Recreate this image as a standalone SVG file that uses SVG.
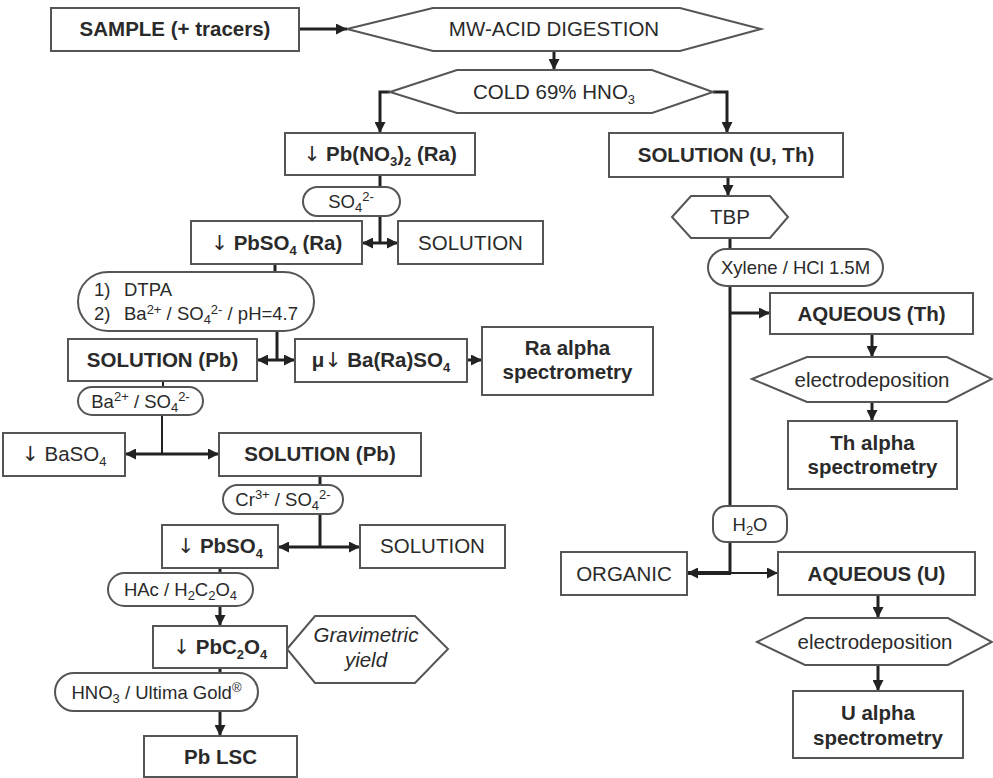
<svg xmlns="http://www.w3.org/2000/svg" width="993" height="778" viewBox="0 0 993 778">
<style>
.box{fill:#fff;stroke:#555;stroke-width:2}
.ln{stroke:#222;stroke-width:3;fill:none}
text{font-family:"Liberation Sans",Arial,sans-serif;fill:#2a2a2a;text-anchor:middle}
.b{font-weight:bold;font-size:20.5px}
.r{font-size:20.5px}
.p{font-size:18.5px}
.i{font-style:italic;font-size:20.5px}
.n{font-weight:normal;font-family:"DejaVu Sans","Liberation Sans",sans-serif;fill:#2a2a2a}
.s{font-size:13px}
</style>
<defs>
<marker id="ah" markerUnits="userSpaceOnUse" markerWidth="11" markerHeight="11" refX="11" refY="5.5" orient="auto-start-reverse">
<path d="M0,0 L11,5.5 L0,11 z" fill="#222"/>
</marker>
</defs>
<rect width="993" height="778" fill="#fff"/>

<g id="connectors">
<line class="ln" x1="299" y1="29" x2="347" y2="29" marker-end="url(#ah)"/>
<line class="ln" x1="554" y1="51" x2="554" y2="70" marker-end="url(#ah)"/>
<polyline class="ln" points="390,92 380,92 380,133" marker-end="url(#ah)"/>
<polyline class="ln" points="713,92 727,92 727,133" marker-end="url(#ah)"/>
<line class="ln" x1="380" y1="175" x2="380" y2="187"/>
<line class="ln" x1="380" y1="216" x2="380" y2="243"/>
<line class="ln" x1="362" y1="243" x2="398" y2="243" marker-start="url(#ah)" marker-end="url(#ah)"/>
<line class="ln" x1="275" y1="264" x2="275" y2="272"/>
<line class="ln" x1="277" y1="331" x2="277" y2="360"/>
<line class="ln" x1="257" y1="360" x2="295" y2="360" marker-start="url(#ah)" marker-end="url(#ah)"/>
<line class="ln" x1="467" y1="360" x2="482" y2="360" marker-end="url(#ah)"/>
<line class="ln" x1="163" y1="381" x2="163" y2="387" style="stroke-width:2"/>
<line class="ln" x1="162" y1="415" x2="162" y2="454" style="stroke-width:2"/>
<line class="ln" x1="125" y1="454" x2="219" y2="454" marker-start="url(#ah)" marker-end="url(#ah)"/>
<line class="ln" x1="320" y1="476" x2="320" y2="485"/>
<line class="ln" x1="320" y1="514" x2="320" y2="547"/>
<line class="ln" x1="278" y1="547" x2="360" y2="547" marker-start="url(#ah)" marker-end="url(#ah)"/>
<line class="ln" x1="220" y1="568" x2="220" y2="573"/>
<line class="ln" x1="220" y1="606" x2="220" y2="626" marker-end="url(#ah)"/>
<line class="ln" x1="220" y1="668" x2="220" y2="673"/>
<line class="ln" x1="220" y1="711" x2="220" y2="736" marker-end="url(#ah)"/>
<line class="ln" x1="728" y1="177" x2="728" y2="196" marker-end="url(#ah)"/>
<line class="ln" x1="730" y1="238" x2="730" y2="249"/>
<line class="ln" x1="730" y1="286" x2="730" y2="506"/>
<line class="ln" x1="730" y1="313" x2="770" y2="313" marker-end="url(#ah)"/>
<line class="ln" x1="872" y1="334" x2="872" y2="357" marker-end="url(#ah)"/>
<line class="ln" x1="872" y1="402" x2="872" y2="421" marker-end="url(#ah)"/>
<line class="ln" x1="730" y1="542" x2="730" y2="573"/>
<line class="ln" x1="731" y1="573" x2="687" y2="573" marker-end="url(#ah)" style="stroke-width:4"/>
<line class="ln" x1="730" y1="573" x2="778" y2="573" marker-end="url(#ah)" style="stroke-width:2"/>
<line class="ln" x1="878" y1="595" x2="878" y2="618" marker-end="url(#ah)"/>
<line class="ln" x1="878" y1="665" x2="878" y2="691" marker-end="url(#ah)"/>
</g>

<g id="sample"><rect class="box" x="51" y="8" width="248" height="43"/><text class="b" x="175" y="36">SAMPLE (+ tracers)</text></g>
<g id="mw"><polygon class="box" points="347,29 433,8 680,8 761,29 680,51 433,51"/><text class="r" x="554" y="36">MW-ACID DIGESTION</text></g>
<g id="cold"><polygon class="box" points="390,92 457,70 652,70 713,92 652,113 457,113"/><text class="r" x="554" y="99">COLD 69% HNO<tspan class="s" dy="5">3</tspan></text></g>

<g id="pbno3"><rect class="box" x="285" y="133" width="190" height="42"/><text class="b" x="380" y="161"><tspan class="n">↓</tspan> Pb(NO<tspan class="s" dy="5">3</tspan><tspan dy="-5">)</tspan><tspan class="s" dy="5">2</tspan><tspan dy="-5"> (Ra)</tspan></text></g>
<g id="so4a"><rect class="box" x="303" y="187" width="97" height="29" rx="14.5"/><text class="p" x="351" y="208">SO<tspan class="s" dy="4">4</tspan><tspan class="s" dy="-11">2-</tspan></text></g>
<g id="pbso4ra"><rect class="box" x="191" y="221" width="171" height="43"/><text class="b" x="276.5" y="250"><tspan class="n">↓</tspan> PbSO<tspan class="s" dy="5">4</tspan><tspan dy="-5"> (Ra)</tspan></text></g>
<g id="sol1"><rect class="box" x="398" y="221" width="145" height="43"/><text class="r" x="470.5" y="250">SOLUTION</text></g>
<g id="dtpa"><rect class="box" x="78" y="272" width="236" height="59" rx="30"/>
<text class="p" x="94" y="296" style="text-anchor:start">1)</text><text class="p" x="124" y="296" style="text-anchor:start">DTPA</text>
<text class="p" x="94" y="320" style="text-anchor:start">2)</text><text class="p" x="124" y="320" style="text-anchor:start">Ba<tspan class="s" dy="-6">2+</tspan><tspan dy="6"> / SO</tspan><tspan class="s" dy="4">4</tspan><tspan class="s" dy="-10">2-</tspan><tspan dy="6"> / pH=4.7</tspan></text></g>
<g id="solpb1"><rect class="box" x="68" y="339" width="189" height="42"/><text class="b" x="162.5" y="367">SOLUTION (Pb)</text></g>
<g id="baraso4"><rect class="box" x="295" y="339" width="172" height="43"/><text class="b" x="381" y="367">μ<tspan class="n">↓</tspan> Ba(Ra)SO<tspan class="s" dy="5">4</tspan></text></g>
<g id="raalpha"><rect class="box" x="482" y="327" width="171" height="68"/><text class="b" x="567.5" y="355">Ra alpha</text><text class="b" x="567.5" y="379">spectrometry</text></g>
<g id="baso4pill"><rect class="box" x="78" y="387" width="125" height="28" rx="14"/><text class="p" x="140.5" y="408">Ba<tspan class="s" dy="-7">2+</tspan><tspan dy="7"> / SO</tspan><tspan class="s" dy="4">4</tspan><tspan class="s" dy="-11">2-</tspan></text></g>
<g id="baso4"><rect class="box" x="3" y="433" width="122" height="43"/><text class="r" x="64" y="461"><tspan class="n">↓</tspan> BaSO<tspan class="s" dy="5">4</tspan></text></g>
<g id="solpb2"><rect class="box" x="219" y="433" width="202" height="43"/><text class="b" x="320" y="461">SOLUTION (Pb)</text></g>
<g id="crpill"><rect class="box" x="223" y="485" width="120" height="29" rx="14.5"/><text class="p" x="283" y="506">Cr<tspan class="s" dy="-7">3+</tspan><tspan dy="7"> / SO</tspan><tspan class="s" dy="4">4</tspan><tspan class="s" dy="-11">2-</tspan></text></g>
<g id="pbso4"><rect class="box" x="162" y="525" width="116" height="43"/><text class="b" x="220" y="553"><tspan class="n">↓</tspan> PbSO<tspan class="s" dy="5">4</tspan></text></g>
<g id="sol2"><rect class="box" x="360" y="525" width="145" height="43"/><text class="r" x="432.5" y="553">SOLUTION</text></g>
<g id="hacpill"><rect class="box" x="108" y="573" width="145" height="33" rx="16.5"/><text class="p" x="180.5" y="596">HAc / H<tspan class="s" dy="4">2</tspan><tspan dy="-4">C</tspan><tspan class="s" dy="4">2</tspan><tspan dy="-4">O</tspan><tspan class="s" dy="4">4</tspan></text></g>
<g id="grav"><polygon class="box" points="287,649 315,616 415,616 448,649 415,683 315,683"/><text class="i" x="366" y="642">Gravimetric</text><text class="i" x="366" y="667">yield</text></g>
<g id="pbc2o4"><rect class="box" x="153" y="626" width="134" height="42"/><text class="b" x="220" y="654"><tspan class="n">↓</tspan> PbC<tspan class="s" dy="5">2</tspan><tspan dy="-5">O</tspan><tspan class="s" dy="5">4</tspan></text></g>
<g id="hno3pill"><rect class="box" x="55" y="673" width="203" height="38" rx="19"/><text class="p" x="156.5" y="699">HNO<tspan class="s" dy="4">3</tspan><tspan dy="-4"> / Ultima Gold</tspan><tspan class="s" dy="-7">®</tspan></text></g>
<g id="pblsc"><rect class="box" x="144" y="736" width="153" height="41"/><text class="b" x="220.5" y="764">Pb LSC</text></g>

<g id="solut"><rect class="box" x="609" y="133" width="234" height="44"/><text class="b" x="726" y="162">SOLUTION (U, Th)</text></g>
<g id="tbp"><polygon class="box" points="672,217 691,196 770,196 788,217 770,238 691,238"/><text class="r" x="730" y="224">TBP</text></g>
<g id="xylene"><rect class="box" x="708" y="249" width="175" height="37" rx="18.5"/><text class="p" x="795.5" y="274">Xylene / HCl 1.5M</text></g>
<g id="aqth"><rect class="box" x="770" y="293" width="203" height="41"/><text class="b" x="871.5" y="321">AQUEOUS (Th)</text></g>
<g id="ed1"><polygon class="box" points="752,379 807,357 947,357 992,379 947,402 807,402"/><text class="r" x="872" y="387">electrodeposition</text></g>
<g id="thalpha"><rect class="box" x="788" y="421" width="169" height="68"/><text class="b" x="872.5" y="450">Th alpha</text><text class="b" x="872.5" y="474">spectrometry</text></g>
<g id="h2o"><rect class="box" x="713" y="506" width="74" height="36" rx="13"/><text class="p" x="750" y="531">H<tspan class="s" dy="4">2</tspan><tspan dy="-4">O</tspan></text></g>
<g id="organic"><rect class="box" x="561" y="552" width="126" height="43"/><text class="r" x="624" y="581">ORGANIC</text></g>
<g id="aqu"><rect class="box" x="778" y="552" width="197" height="43"/><text class="b" x="876.5" y="581">AQUEOUS (U)</text></g>
<g id="ed2"><polygon class="box" points="757,642 805,618 948,618 992,642 948,665 805,665"/><text class="r" x="875" y="649">electrodeposition</text></g>
<g id="ualpha"><rect class="box" x="793" y="691" width="170" height="67"/><text class="b" x="878" y="720">U alpha</text><text class="b" x="878" y="745">spectrometry</text></g>
</svg>
